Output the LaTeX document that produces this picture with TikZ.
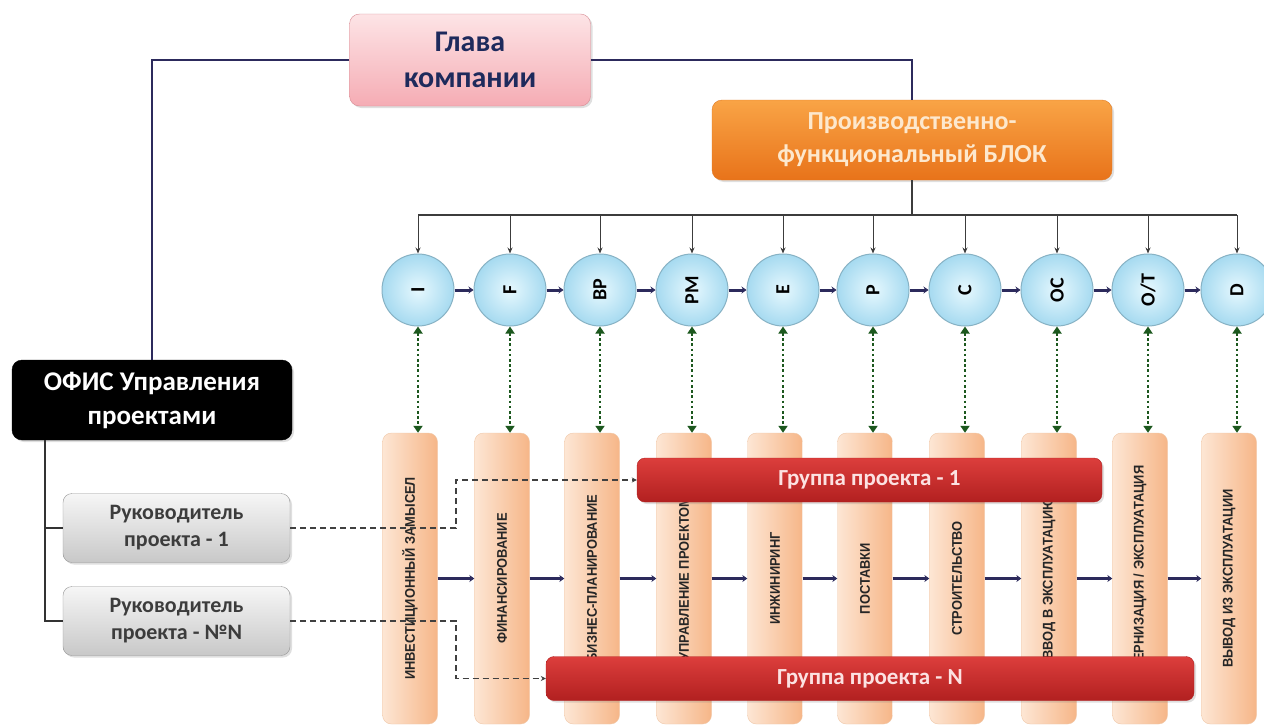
\documentclass[tikz,border=0pt]{standalone}
\usepackage{fontspec}
\setmainfont{Carlito}
\newfontfamily\colfont[FakeStretch=0.92]{Liberation Sans}
\usetikzlibrary{arrows.meta,shadows,calc}
\definecolor{navy}{RGB}{44,42,92}
\definecolor{glavatxt}{RGB}{30,42,92}
\definecolor{pinkT}{RGB}{253,228,230}
\definecolor{pinkB}{RGB}{245,172,180}
\definecolor{pinkD}{RGB}{215,140,148}
\definecolor{orT}{RGB}{249,164,70}
\definecolor{orB}{RGB}{232,115,26}
\definecolor{orD}{RGB}{226,122,34}
\definecolor{ortxt}{RGB}{253,232,205}
\definecolor{cirIn}{RGB}{230,248,254}
\definecolor{cirOut}{RGB}{166,218,240}
\definecolor{cirD}{RGB}{135,178,196}
\definecolor{colL}{RGB}{253,230,212}
\definecolor{colR}{RGB}{246,182,136}
\definecolor{colD}{RGB}{240,200,168}
\definecolor{redT}{RGB}{220,62,60}
\definecolor{redB}{RGB}{178,32,32}
\definecolor{redtxt}{RGB}{252,226,226}
\definecolor{grT}{RGB}{246,246,246}
\definecolor{grB}{RGB}{200,200,200}
\definecolor{grD}{RGB}{150,150,150}
\definecolor{grtxt}{RGB}{60,60,60}
\definecolor{dgreen}{RGB}{28,88,30}
\definecolor{thinarr}{RGB}{60,60,60}
\begin{document}
\begin{tikzpicture}[x=1pt,y=-1pt,
  shad/.style={drop shadow={opacity=0.25,shadow xshift=2pt,shadow yshift=-2pt}},
  glavabox/.style={shad,rounded corners=10pt,draw=pinkD,top color=pinkT,bottom color=pinkB,
    minimum width=241pt,minimum height=92pt,align=center,text=glavatxt,
    font=\fontsize{30}{36}\selectfont\bfseries},
  orbox/.style={shad,rounded corners=10pt,draw=orD,top color=orT,bottom color=orB,
    minimum width=400pt,minimum height=80pt,align=center,text=ortxt,
    font=\fontsize{26}{33}\selectfont\bfseries},
  offbox/.style={shad,rounded corners=10pt,fill=black,draw=black,
    minimum width=280pt,minimum height=80pt,align=center,text=white,
    font=\fontsize{27}{34}\selectfont\bfseries},
  rpbox/.style={shad,rounded corners=9pt,draw=grD,top color=grT,bottom color=grB,
    minimum width=227pt,minimum height=69pt,align=center,text=grtxt,
    font=\fontsize{22}{27}\selectfont\bfseries},
  circ/.style={circle,draw=cirD,line width=1pt,inner color=cirIn,outer color=cirOut,
    minimum size=72pt,inner sep=0pt,font=\fontsize{20}{22}\selectfont\bfseries},
  colbox/.style={rounded corners=9pt,draw=colD,left color=colL,right color=colR,
    minimum width=55pt,minimum height=291pt,inner sep=0pt},
  coltext/.style={rotate=90,text=black!85,font=\colfont\fontsize{14}{16}\selectfont\bfseries,inner sep=0pt},
  grpbar/.style={shad,rounded corners=8pt,draw=redB,top color=redT,bottom color=redB,
    minimum height=44pt,text=redtxt,font=\fontsize{23}{27}\selectfont\bfseries},
  navyline/.style={draw=navy,line width=1.6pt},
  navyarr/.style={draw=navy,line width=3pt,-{Stealth[length=5pt,width=7pt]}},
  thinarrow/.style={draw=thinarr,line width=1pt,-{Stealth[length=6pt,width=5pt]}},
  dotarr/.style={draw=dgreen,line width=2.6pt,dash pattern=on 2.6pt off 2.6pt,
    {Triangle[length=7pt,width=9pt]}-{Triangle[length=7pt,width=9pt]}},
  dashln/.style={draw=black!75,line width=1.3pt,dash pattern=on 6pt off 4pt}
]
\useasboundingbox (0,0) rectangle (1264,726);
\fill[white] (0,0) rectangle (1264,726);

% top boxes
\node[glavabox] (g) at (470,60) {Глава\\компании};
\node[orbox] (o) at (912,140) {Производственно-\\функциональный БЛОК};
\node[offbox] (off) at (152,400) {ОФИС Управления\\проектами};
\node[rpbox] (r1) at (176.5,528) {Руководитель\\проекта - 1};
\node[rpbox] (rn) at (176.5,621) {Руководитель\\проекта - №N};

\draw[navyline] (g.west) -| (off.north);
\draw[navyline] (g.east) -| (o.north);
\draw[draw=black!80,line width=1.3pt] ([xshift=-107pt]off.south) |- (r1.west);
\draw[draw=black!80,line width=1.3pt] ([xshift=-107pt]off.south) |- (rn.west);

% columns and circles
\foreach \i/\cx/\lab/\txt in {
  1/418/I/{ИНВЕСТИЦИОННЫЙ ЗАМЫСЕЛ},
  2/510/F/{ФИНАНСИРОВАНИЕ},
  3/600/BP/{БИЗНЕС-ПЛАНИРОВАНИЕ},
  4/692/PM/{УПРАВЛЕНИЕ ПРОЕКТОМ},
  5/783/E/{ИНЖИНИРИНГ},
  6/873/P/{ПОСТАВКИ},
  7/965/C/{СТРОИТЕЛЬСТВО},
  8/1057/OC/{ВВОД В ЭКСПЛУАТАЦИЮ},
  9/1148/{O/T}/{МОДЕРНИЗАЦИЯ / ЭКСПЛУАТАЦИЯ},
  10/1237/D/{ВЫВОД ИЗ ЭКСПЛУАТАЦИИ}}
{
  \node[colbox] (c\i) at (\cx-8,578.5) {};
  \node[coltext] (t\i) at (c\i.center) {\txt};
  \node[circ] (k\i) at (\cx,290) {\rotatebox{90}{\lab}};
}

% bar from orange block to circles
\coordinate (bar) at (912,215);
\draw[draw=thinarr,line width=1.2pt] (o.south) -- (bar);
\draw[draw=thinarr,line width=1.2pt] (k1.north |- bar) -- (k10.north |- bar);
\foreach \i in {1,...,10}{
  \draw[thinarrow] (k\i.north |- bar) -- (k\i.north);
  \draw[dotarr] (k\i.south) -- (k\i.south |- c\i.north);
}
\foreach \i/\j in {1/2,2/3,3/4,4/5,5/6,6/7,7/8,8/9,9/10}{
  \draw[navyarr] (k\i.east) -- (k\j.west);
  \draw[navyarr] (c\i.east) -- (c\j.west);
}

% groups
\coordinate (jx) at (456,0);
\node[grpbar,minimum width=465pt] (g1) at (869.5,480) {Группа проекта - 1};
\node[grpbar,minimum width=648pt] (gn) at (870,678.5) {Группа проекта - N};
\draw[dashln,-{Stealth[length=5pt,width=5pt]}] (r1.east) -- (r1.east -| jx) |- (g1.west);
\draw[dashln,-{Stealth[length=5pt,width=5pt]}] (rn.east) -- (rn.east -| jx) |- (gn.west);
\end{tikzpicture}
\end{document}
